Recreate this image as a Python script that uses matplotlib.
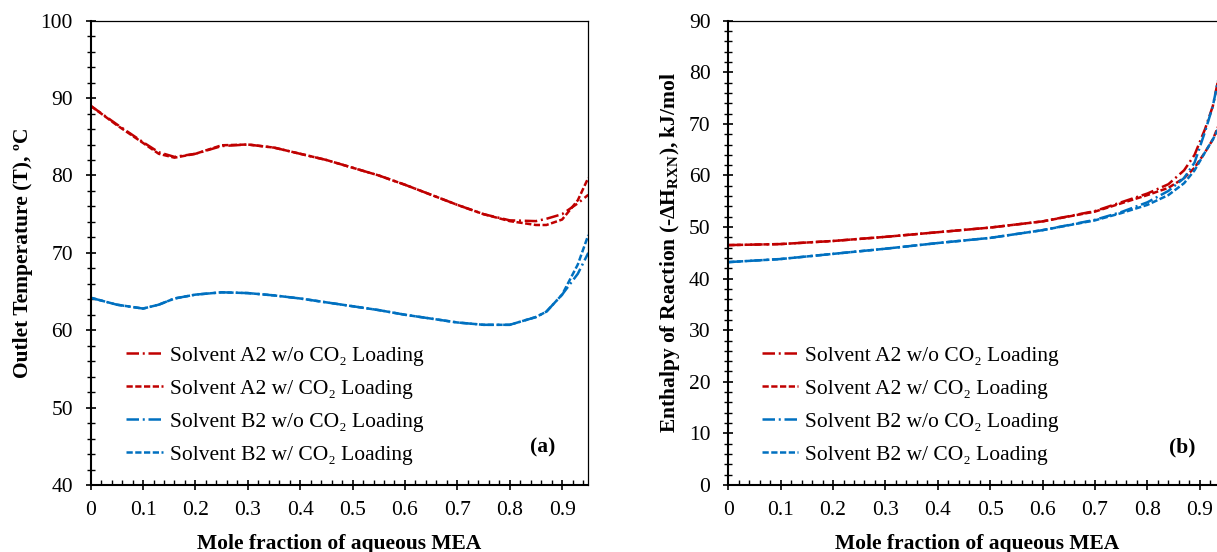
import matplotlib
matplotlib.use('Agg')
import matplotlib.pyplot as plt

plt.rcParams['font.family'] = ['Liberation Serif', 'DejaVu Serif']
plt.rcParams['mathtext.fontset'] = 'custom'
plt.rcParams['mathtext.rm'] = 'Liberation Serif'
plt.rcParams['mathtext.bf'] = 'Liberation Serif:bold'

RED = '#C00000'
BLUE = '#0070C0'
FS = 15.5

# panel (a): outlet temperature
x_a = [0, 0.05, 0.1, 0.13, 0.16, 0.2, 0.25, 0.3, 0.35, 0.4, 0.45, 0.5, 0.55,
       0.6, 0.65, 0.7, 0.75, 0.8, 0.85, 0.87, 0.9, 0.93, 0.95]
temp_a2_wo = [89.0, 86.6, 84.3, 83.0, 82.4, 82.8, 83.8, 84.0, 83.6, 82.8, 82.0, 81.0, 80.0,
              78.8, 77.5, 76.2, 75.0, 74.2, 74.1, 74.4, 75.0, 76.4, 77.5]
temp_a2_w = [89.0, 86.5, 84.2, 82.8, 82.3, 82.8, 83.9, 84.0, 83.6, 82.8, 82.0, 81.0, 80.0,
             78.8, 77.5, 76.2, 75.0, 74.1, 73.6, 73.6, 74.3, 76.8, 79.7]
temp_b2_wo = [64.2, 63.3, 62.8, 63.3, 64.1, 64.6, 64.9, 64.8, 64.5, 64.1, 63.6, 63.1, 62.6,
              62.0, 61.5, 61.0, 60.7, 60.7, 61.7, 62.4, 64.6, 67.3, 70.0]
temp_b2_w = [64.2, 63.3, 62.8, 63.3, 64.1, 64.6, 64.9, 64.8, 64.5, 64.1, 63.6, 63.1, 62.6,
             62.0, 61.5, 61.0, 60.7, 60.7, 61.7, 62.4, 64.6, 68.5, 72.3]

# panel (b): enthalpy of reaction
x_b = [0, 0.1, 0.2, 0.3, 0.4, 0.5, 0.6, 0.7, 0.75, 0.8, 0.84, 0.87, 0.89, 0.91, 0.925, 0.935]
dh_a2_wo = [46.5, 46.7, 47.3, 48.1, 49.0, 49.9, 51.1, 53.1, 54.8, 56.5, 58.3, 61.0, 64.0, 69.0, 73.5, 78.5]
dh_a2_w = [46.5, 46.7, 47.3, 48.1, 49.0, 49.9, 51.1, 53.0, 54.6, 56.2, 57.6, 59.5, 61.5, 64.5, 67.0, 69.5]
dh_b2_wo = [43.2, 43.8, 44.8, 45.8, 46.9, 47.9, 49.4, 51.4, 52.9, 54.8, 57.0, 59.5, 62.5, 68.5, 73.5, 78.5]
dh_b2_w = [43.2, 43.8, 44.8, 45.8, 46.9, 47.9, 49.4, 51.3, 52.7, 54.3, 56.2, 58.5, 61.0, 64.5, 67.0, 69.0]

labels = ['Solvent A2 w/o CO\u2082 Loading', 'Solvent A2 w/ CO\u2082 Loading',
          'Solvent B2 w/o CO\u2082 Loading', 'Solvent B2 w/ CO\u2082 Loading']

DASHDOT = (5, 1.5, 0.8, 1.5)
DASH = (2.5, 1.0)
LW = 1.8

fig = plt.figure(figsize=(12.17, 5.52), dpi=100)
ax1 = fig.add_axes([0.0745, 0.1214, 0.4089, 0.8411])
ax2 = fig.add_axes([0.5984, 0.1214, 0.4090, 0.8411])


def style_axes(ax, ylo, yhi, ymajor, ymin_step):
    ax.set_xlim(0, 0.95)
    ax.set_ylim(ylo, yhi)
    ax.set_xticks([i / 10 for i in range(10)])
    ax.set_xticklabels(['0'] + ['%.1f' % (i / 10) for i in range(1, 10)])
    ax.set_xticks([i / 50 for i in range(48)], minor=True)
    ax.set_yticks(range(ylo, yhi + 1, ymajor))
    ax.set_yticks(range(ylo, yhi + 1, ymin_step), minor=True)
    ax.tick_params(axis='x', which='major', direction='inout', length=7.7, width=1.2,
                   labelsize=FS, pad=8)
    ax.tick_params(axis='x', which='minor', direction='in', length=3.6, width=1.0)
    ax.tick_params(axis='y', which='major', direction='inout', length=7.7, width=1.2,
                   labelsize=FS, pad=9)
    ax.tick_params(axis='y', which='minor', direction='inout', length=6, width=1.0)
    ax.spines['left'].set_linewidth(1.5)
    ax.spines['bottom'].set_linewidth(1.5)
    ax.spines['top'].set_linewidth(0.9)
    ax.spines['right'].set_linewidth(0.9)
    ax.set_xlabel('Mole fraction of aqueous MEA', fontsize=FS, fontweight='bold', labelpad=10)


def draw(ax, x, s1, s2, s3, s4, lx):
    ax.plot(x, s1, color=RED, lw=LW, dashes=DASHDOT, label=labels[0])
    ax.plot(x, s2, color=RED, lw=LW, dashes=DASH, label=labels[1])
    ax.plot(x, s3, color=BLUE, lw=LW, dashes=DASHDOT, label=labels[2])
    ax.plot(x, s4, color=BLUE, lw=LW, dashes=DASH, label=labels[3])
    ax.legend(loc='upper left', bbox_to_anchor=(lx, 0.318), frameon=False,
              fontsize=FS, handlelength=1.7, handletextpad=0.33, labelspacing=0.6,
              borderaxespad=0)


style_axes(ax1, 40, 100, 10, 2)
draw(ax1, x_a, temp_a2_wo, temp_a2_w, temp_b2_wo, temp_b2_w, 0.054)
ax1.set_ylabel('Outlet Temperature (T), \u00baC', fontsize=FS, fontweight='bold', labelpad=5)
ax1.text(0.908, 0.08, '(a)', transform=ax1.transAxes, fontsize=FS, fontweight='bold',
         ha='center', va='center')

style_axes(ax2, 0, 90, 10, 2)
draw(ax2, x_b, dh_a2_wo, dh_a2_w, dh_b2_wo, dh_b2_w, 0.05)
ax2.set_ylabel(r'Enthalpy of Reaction (-$\mathbf{\Delta}$H$_{\mathbf{RXN}}$), kJ/mol',
               fontsize=FS, fontweight='bold', labelpad=5)
ax2.text(0.912, 0.08, '(b)', transform=ax2.transAxes, fontsize=FS, fontweight='bold',
         ha='center', va='center')

fig.savefig('out.png', dpi=100)
